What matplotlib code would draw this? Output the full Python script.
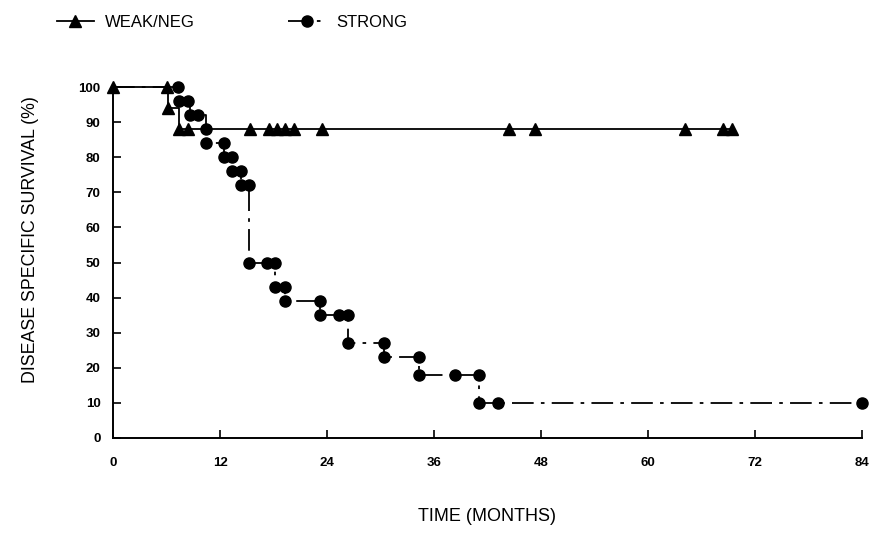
import matplotlib
matplotlib.use('Agg')
import matplotlib.pyplot as plt

plt.rcParams['font.family'] = ['Liberation Sans', 'DejaVu Sans']

# weak/neg group: step points (months, survival %), every point carries a triangle
weak_t = [0, 6.0, 6.2, 7.3, 7.4, 8.4, 15.4, 17.5, 18.4, 19.3, 20.3, 23.4, 44.4, 47.3, 64.2, 68.4, 69.4]
weak_s = [100, 100, 94, 94, 88, 88, 88, 88, 88, 88, 88, 88, 88, 88, 88, 88, 88]
weak_marks = [0, 1, 2, 4, 5, 6, 7, 8, 9, 10, 11, 12, 13, 14, 15, 16]

# strong group
strong_t = [0, 7.3, 7.4, 8.4, 8.6, 9.5, 10.4, 10.4, 12.5, 12.5, 13.4, 13.4, 14.3, 14.3, 15.3,
            15.3, 17.3, 18.2, 18.2, 19.3, 19.3, 23.2, 23.2, 25.4, 26.3, 26.3, 30.4, 30.4,
            34.3, 34.3, 38.3, 41.1, 41.1, 43.2, 84]
strong_s = [100, 100, 96, 96, 92, 92, 88, 84, 84, 80, 80, 76, 76, 72, 72,
            50, 50, 50, 43, 43, 39, 39, 35, 35, 35, 27, 27, 23,
            23, 18, 18, 18, 10, 10, 10]
strong_marks = list(range(1, len(strong_t)))

xticks = [0, 12, 24, 36, 48, 60, 72, 84]
yticks = [0, 10, 20, 30, 40, 50, 60, 70, 80, 90, 100]

fig = plt.figure(figsize=(8.86, 5.35), dpi=100)
ax = fig.add_axes([113/886, 1 - 438/535, 749/886, 351/535])

ax.plot(weak_t, weak_s, color='black', lw=1.3, drawstyle='steps-post',
        marker='^', markersize=8.5, markevery=weak_marks, clip_on=False,
        label='WEAK/NEG')
ax.plot(strong_t, strong_s, color='black', lw=1.3, drawstyle='steps-post',
        linestyle=(0, (12, 4, 2, 4)), marker='o', markersize=8,
        markevery=strong_marks, clip_on=False, label='STRONG')

ax.set_xlim(0, 84)
ax.set_ylim(0, 100)
ax.set_xticks(xticks)
ax.set_yticks(yticks)
for lab in ax.get_xticklabels() + ax.get_yticklabels():
    lab.set_fontweight('bold')
ax.spines['top'].set_visible(False)
ax.spines['right'].set_visible(False)
ax.spines['left'].set_linewidth(1.4)
ax.spines['bottom'].set_linewidth(1.4)
ax.tick_params(direction='in', length=6, width=1.2, labelsize=9.5)
ax.tick_params(axis='x', pad=14)
ax.tick_params(axis='y', pad=9)

ax.set_xlabel('TIME (MONTHS)', fontsize=13)
ax.xaxis.set_label_coords(0.499, -0.2)
ax.set_ylabel('DISEASE SPECIFIC SURVIVAL (%)', fontsize=12.8)
ax.yaxis.set_label_coords(-0.099, 0.564)

ax.legend(loc='lower left', bbox_to_anchor=(-0.095, 1.12), ncol=2, frameon=False,
          fontsize=12, handlelength=2.2, columnspacing=5.6, handletextpad=0.7)

fig.savefig('out.png', dpi=100)
